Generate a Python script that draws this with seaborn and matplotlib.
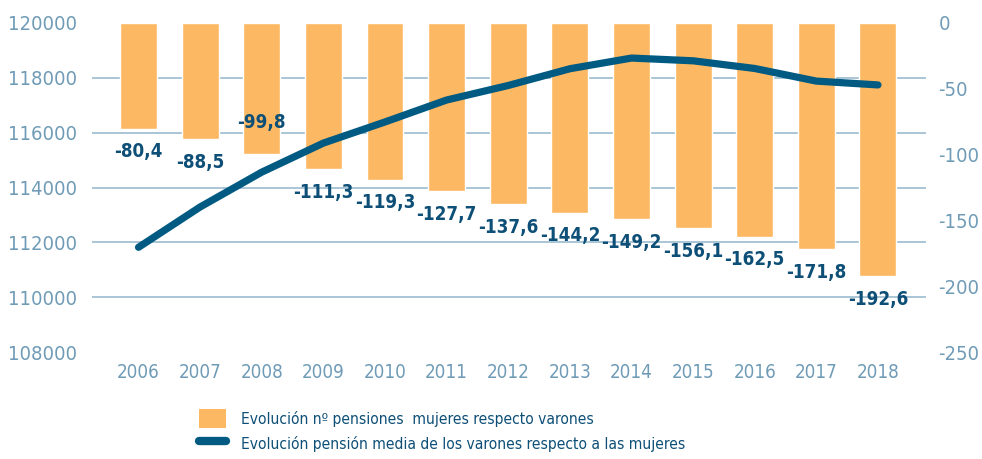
import matplotlib
matplotlib.use("Agg")
import matplotlib.pyplot as plt
import seaborn as sns
import pandas as pd
import numpy as np
from matplotlib.patches import Patch
from matplotlib.lines import Line2D

years = ["2006", "2007", "2008", "2009", "2010", "2011", "2012",
         "2013", "2014", "2015", "2016", "2017", "2018"]
pensiones_mujeres = [-80.4, -88.5, -99.8, -111.3, -119.3, -127.7, -137.6,
                     -144.2, -149.2, -156.1, -162.5, -171.8, -192.6]
pension_media_varones = [111820, 113290, 114560, 115620, 116390, 117190, 117720,
                         118330, 118720, 118620, 118340, 117880, 117740]
bar_labels = ["-80,4", "-88,5", "-99,8", "-111,3", "-119,3", "-127,7", "-137,6",
              "-144,2", "-149,2", "-156,1", "-162,5", "-171,8", "-192,6"]
left_ticks = [108000, 110000, 112000, 114000, 116000, 118000, 120000]
right_ticks = [-250, -200, -150, -100, -50, 0]
legend_labels = ["Evolución nº pensiones  mujeres respecto varones",
                 "Evolución pensión media de los varones respecto a las mujeres"]

sns.set_theme(style="white")
plt.rcParams['font.family'] = ['DejaVu Sans']
plt.rcParams['font.stretch'] = 'condensed'

ORANGE = "#fcb862"
LINE = "#005a82"
TICK = "#6f9bb6"
GRID = "#a9c5d5"
LABEL = "#0d4f77"

df = pd.DataFrame({"year": years, "bars": pensiones_mujeres, "line": pension_media_varones})

fig = plt.figure(figsize=(9.82, 4.59), dpi=100)
ax = fig.add_axes([0.094, 0.233, 0.849, 0.717])

sns.barplot(data=df, x="year", y="bars", color=ORANGE, width=0.6, ax=ax,
            saturation=1)
ax.set_ylim(-250, 0)
ax.set_xlim(-0.75, 12.78)
ax.set_axisbelow(True)
ax.set_yticks(right_ticks)
ax.set_yticklabels([str(t) for t in right_ticks])
# horizontal grid aligned with the left-axis ticks (7 lines)
ax.set_yticks(np.linspace(-250, 0, len(left_ticks)), minor=True)
ax.grid(axis="y", which="minor", color=GRID, linewidth=1.4)
ax.grid(axis="y", which="major", visible=False)
ax.grid(axis="x", visible=False)
for s in ax.spines.values():
    s.set_visible(False)
ax.set_xlabel("")
ax.set_ylabel("")

for i, (v, lab) in enumerate(zip(pensiones_mujeres, bar_labels)):
    off = 32 if i == 2 else -23
    ax.annotate(lab, xy=(i, v), xytext=(0, off), textcoords="offset pixels",
                ha="center", va="center", fontsize=13.5, fontweight="bold",
                color=LABEL)

ax2 = ax.twinx()
sns.lineplot(data=df, x="year", y="line", color=LINE, linewidth=5.2, ax=ax2,
             sort=False)
for l in ax2.lines:
    l.set_solid_capstyle("round")
    l.set_solid_joinstyle("round")
ax2.set_ylim(108000, 120000)
ax2.set_xlim(-0.75, 12.78)
ax2.set_yticks(left_ticks)
ax2.set_yticklabels([str(t) for t in left_ticks])
ax2.grid(False)
for s in ax2.spines.values():
    s.set_visible(False)
ax2.set_xlabel("")
ax2.set_ylabel("")

# place axes sides after twinx (twinx resets them)
ax.yaxis.tick_right()
ax2.yaxis.tick_left()
ax.tick_params(axis="y", which="both", length=0, pad=9, labelsize=14.5, labelcolor=TICK)
ax.tick_params(axis="x", length=0, pad=8, labelsize=13.5, labelcolor=TICK)
ax2.tick_params(axis="y", length=0, pad=11, labelsize=14.5, labelcolor=TICK)
ax2.tick_params(axis="x", bottom=False, labelbottom=False)

handles = [Patch(facecolor=ORANGE, edgecolor="none"),
           Line2D([0], [0], color=LINE, linewidth=6, solid_capstyle="round")]
leg = fig.legend(handles, legend_labels, loc="upper left",
                 bbox_to_anchor=(0.203, 0.11), frameon=False, fontsize=11.2,
                 handlelength=1.7, handleheight=1.6, handletextpad=1.0,
                 labelspacing=0.35, borderaxespad=0, borderpad=0)
for t in leg.get_texts():
    t.set_color(LABEL)

fig.savefig("out.png", dpi=100)
